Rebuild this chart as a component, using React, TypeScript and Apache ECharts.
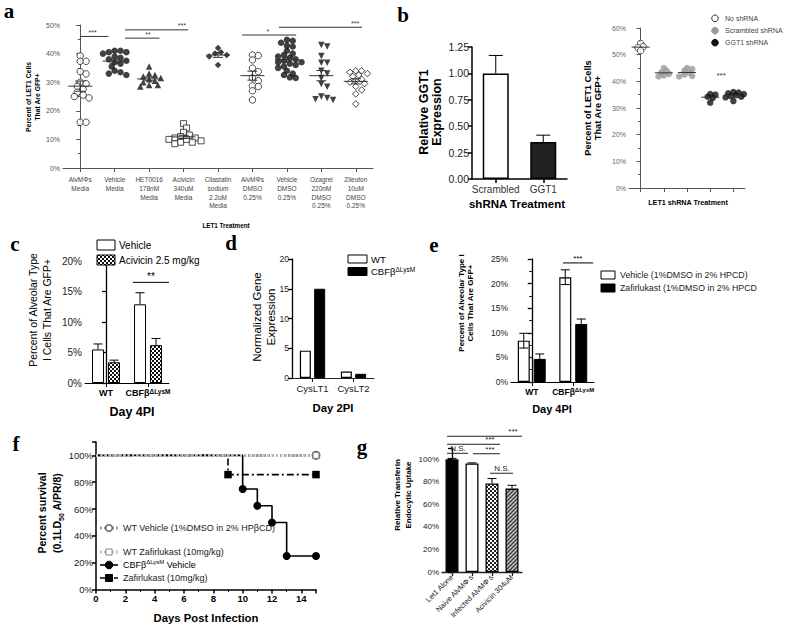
import React, { useEffect, useRef } from 'react';
import * as echarts from 'echarts';

const FONT = '"Liberation Sans", Arial, Helvetica, sans-serif';
const SERIF = '"Liberation Serif", "Times New Roman", Times, serif';

// ---------------- Panel a ----------------
const aCategories = [
  'AlvMΦs\nMedia', 'Vehicle\nMedia', 'HET0016\n178nM\nMedia', 'Acivicin\n340uM\nMedia',
  'Cilastatin\nsodium\n2.2uM\nMedia', 'AlvMΦs\nDMSO\n0.25%', 'Vehicle\nDMSO\n0.25%',
  'Ozagrel\n220nM\nDMSO\n0.25%', 'Zileuton\n10uM\nDMSO\n0.25%',
];
const aAlvMedia = [39.2, 37.3, 37.3, 33.7, 32.9, 30, 29.5, 28.5, 27.5, 26.5, 25.5, 25, 24.5, 16, 16];
const aVehicleMedia = [41, 41, 40.5, 40.5, 40, 39, 38.5, 38, 37.5, 37, 36.5, 35.5, 34, 33.5, 33, 32.5];
const aHET0016 = [35.5, 33, 32.5, 32, 31.5, 31, 30.5, 30, 29, 29, 28.5];
const aAcivicin = [15.5, 14, 12.5, 11.5, 11, 10.5, 10.5, 10, 10, 9.5, 9, 9, 8.5];
const aCilastatin = [42, 40.5, 40, 39.5, 39, 36];
const aAlvDMSO = [39.5, 39.3, 37.8, 34.9, 33.7, 31.5, 30.5, 28.7, 28.5, 27, 23.8];
const aVehicleDMSO = [44.8, 44.5, 43.8, 42.8, 42.5, 41, 40, 39.5, 39, 38.5, 38, 37.5, 37, 37, 36.5, 36, 35.5, 35, 34, 33, 32.5, 31.7, 31.5];
const aOzagrel = [43, 42.5, 39.2, 36.8, 36.8, 34, 33, 31.5, 29.4, 28.4, 25, 24.5, 24, 23.8];
const aZileuton = [34, 34, 33.5, 33, 32.5, 32, 31, 30.5, 30, 29.5, 28.5, 27.3, 25.9, 22.4];
const aGroups = [aAlvMedia, aVehicleMedia, aHET0016, aAcivicin, aCilastatin, aAlvDMSO, aVehicleDMSO, aOzagrel, aZileuton];
// [fromGroup, toGroup, yValue, labelAt]
const aSig = [[0.0, 0.82, 46.0, 0.36], [1.3, 3.13, 48.3, 2.95], [1.3, 2.3, 45.4, 1.97], [4.7, 6.27, 46.5, 5.45], [5.77, 8.18, 49.2, 7.98]];
const aSigLabels = ['***', '***', '**', '*', '***'];

// ---------------- Panel b ----------------
const bLeftCategories = ['Scrambled', 'GGT1'];
const bLeftValues = [1.0, 0.35];
const bLeftErrors = [0.17, 0.065];

const bRightGroupNames = ['No shRNA', 'Scrambled 1', 'Scrambled 2', 'GGT1 1', 'GGT1 2'];
const bNoShRNA = [54.2, 53.0, 52.6, 51.5];
const bScrambled1 = [45.0, 44.0, 43.3, 42.8, 42.2, 41.8];
const bScrambled2 = [45.0, 44.6, 44.0, 43.2, 42.6, 42.0, 41.8];
const bGGT1a = [35.2, 35.0, 34.2, 33.8, 32.0];
const bGGT1b = [36.0, 35.8, 35.5, 35.2, 34.8, 34.4, 34.2, 34.0, 32.6];
const bRightGroups = [bNoShRNA, bScrambled1, bScrambled2, bGGT1a, bGGT1b];
const bRightSig = [[3.47, 3.47, 40.5, 3.47]];
const bRightSigLabels = ['***'];

// ---------------- Panel c ----------------
const cCategories = ['WT', 'CBFβΔLysM'];
const cVehicle = [5.5, 12.9];
const cVehicleErr = [0.9, 1.9];
const cAcivicin = [3.4, 6.2];
const cAcivicinErr = [0.35, 1.1];
const cSig = [[0.64, 1.5, 16.5, 1.07]];
const cSigLabels = ['**'];

// ---------------- Panel d ----------------
const dCategories = ['CysLT1', 'CysLT2'];
const dWT = [4.6, 1.1];
const dCBF = [15.0, 0.7];

// ---------------- Panel e ----------------
const eCategories = ['WT', 'CBFβΔLysM'];
const eVehicle = [8.4, 21.3];
const eVehicleErr = [1.5, 1.5];
const eZafirlukast = [4.7, 11.8];
const eZafirlukastErr = [1.0, 1.0];
const eSig = [[0.75, 1.48, 24.2, 1.11]];
const eSigLabels = ['***'];

// ---------------- Panel f ----------------
const fWTVehicle = [[0, 100], [15, 100]];
const fWTZafirlukast = [[0, 100], [15, 100]];
const fCBFVehicle = [[0, 100], [10, 75], [11, 62.5], [12, 50], [13, 25], [15, 25]];
const fCBFZafirlukast = [[0, 100], [9, 85.7], [15, 85.7]];

// ---------------- Panel g ----------------
const gCategories = ['Let1 Alone', 'Naive AlvMΦ s', 'Infected AlvMΦ s', 'Acivicin 304uM'];
const gValues = [100, 96.2, 78.5, 74];
const gErrors = [0.8, 0.6, 4.4, 2.9];
const gSig = [[-0.25, 3.5, 120.4, 3.05], [-0.25, 2.4, 113.3, 1.9], [-0.25, 0.8, 105.3, 0.3], [1.05, 2.4, 104.9, 1.9], [1.9, 3.05, 87.6, 2.5]];
const gSigLabels = ['***', '***', 'N.S.', '***', 'N.S.'];

// ---------------- helpers ----------------
const mean = (a: number[]) => a.reduce((s, v) => s + v, 0) / a.length;
const sem = (a: number[]) => {
  const m = mean(a);
  const sd = Math.sqrt(a.reduce((s, v) => s + (v - m) * (v - m), 0) / (a.length - 1));
  return sd / Math.sqrt(a.length);
};

function swarmOffsets(vals: number[], pxPerY: number, pxPerX: number, diam: number, overlap: number, stepF: number): number[] {
  const order = vals.map((_, i) => i).sort((i, j) => vals[j] - vals[i]);
  const placed: [number, number][] = [];
  const out = new Array(vals.length).fill(0);
  const step = diam * stepF;
  for (const i of order) {
    const py = vals[i] * pxPerY;
    let px = 0;
    for (let k = 0; k < 80; k++) {
      const cand = k === 0 ? 0 : (k % 2 ? 1 : -1) * Math.ceil(k / 2) * step;
      if (placed.every(([x, y]) => Math.hypot(x - cand, y - py) >= diam * overlap)) { px = cand; break; }
    }
    placed.push([px, py]);
    out[i] = px / pxPerX;
  }
  return out;
}

function makeChecker(cell: number, fg: string, bg: string) {
  const c = document.createElement('canvas');
  c.width = c.height = cell * 2;
  const ctx = c.getContext('2d')!;
  ctx.fillStyle = bg; ctx.fillRect(0, 0, cell * 2, cell * 2);
  ctx.fillStyle = fg; ctx.fillRect(0, 0, cell, cell); ctx.fillRect(cell, cell, cell, cell);
  return c;
}
function makeHatch() {
  const s = 4;
  const c = document.createElement('canvas');
  c.width = c.height = s;
  const ctx = c.getContext('2d')!;
  ctx.fillStyle = '#c8c8c8'; ctx.fillRect(0, 0, s, s);
  ctx.strokeStyle = '#333'; ctx.lineWidth = 1.3;
  ctx.beginPath();
  ctx.moveTo(0, s); ctx.lineTo(s, 0);
  ctx.moveTo(-1, 1); ctx.lineTo(1, -1);
  ctx.moveTo(s - 1, s + 1); ctx.lineTo(s + 1, s - 1);
  ctx.stroke();
  return c;
}

function yAx(gridIndex: number, min: number, max: number, interval: number, o: any = {}) {
  const color = o.color ?? '#000';
  return {
    type: 'value', gridIndex, min, max, interval,
    axisLine: { show: true, lineStyle: { color: o.lineColor ?? color, width: o.width ?? 1 } },
    axisTick: { show: true, length: 4, lineStyle: { color: o.lineColor ?? color, width: o.width ?? 1 } },
    minorTick: { show: !!o.minor, splitNumber: 2, length: 2.5, lineStyle: { color: o.lineColor ?? color } },
    axisLabel: { color, fontSize: o.size ?? 9, fontFamily: FONT, margin: 3, formatter: o.fmt },
    splitLine: { show: false }, minorSplitLine: { show: false },
  };
}
function catAx(gridIndex: number, data: string[], o: any = {}) {
  const color = o.color ?? '#000';
  return {
    type: 'category', gridIndex, data,
    axisLine: { show: true, onZero: false, lineStyle: { color: o.lineColor ?? color, width: o.width ?? 1 } },
    axisTick: { show: true, alignWithLabel: true, length: 4, lineStyle: { color: o.lineColor ?? color, width: o.width ?? 1 } },
    axisLabel: {
      show: o.showLabel ?? true, interval: 0, color, fontSize: o.size ?? 9, fontFamily: FONT,
      fontWeight: o.bold ? 'bold' : 'normal', margin: o.margin ?? 4, lineHeight: o.lh, rotate: o.rotate ?? 0,
      formatter: o.fmt, rich: o.rich,
    },
    splitLine: { show: false },
  };
}
function hiddenVal(gridIndex: number, n: number) {
  return { type: 'value', gridIndex, min: -0.5, max: n - 0.5, show: false, splitLine: { show: false } };
}

function sigSeries(xi: number, yi: number, rows: number[][], labels: string[], fs: number, color = '#222') {
  return {
    type: 'custom', xAxisIndex: xi, yAxisIndex: yi, z: 8, clip: false, silent: true,
    data: rows,
    renderItem: (p: any, api: any) => {
      const a = api.coord([api.value(0), api.value(2)]);
      const b = api.coord([api.value(1), api.value(2)]);
      const t = api.coord([api.value(3), api.value(2)]);
      const children: any[] = [];
      if (Math.abs(b[0] - a[0]) > 1) {
        children.push({ type: 'line', shape: { x1: a[0], y1: a[1], x2: b[0], y2: b[1] }, style: { stroke: color, lineWidth: 1 } });
      }
      children.push({
        type: 'text', x: t[0], y: a[1] - 0.5,
        style: { text: labels[p.dataIndex], fontSize: fs, fontFamily: FONT, fill: color, align: 'center', textAlign: 'center', verticalAlign: 'bottom', textVerticalAlign: 'bottom' },
      });
      return { type: 'group', children };
    },
  };
}

function errSeries(xi: number, yi: number, data: number[][], offsets: number[], capHalf: number, both: boolean) {
  return {
    type: 'custom', xAxisIndex: xi, yAxisIndex: yi, z: 6, clip: false, silent: true,
    data,
    renderItem: (p: any, api: any) => {
      const cat = api.value(0), v = api.value(1), e = api.value(2), slot = api.value(3);
      const c = api.coord([cat, v]);
      const t = api.coord([cat, v + e]);
      const b = api.coord([cat, v - e]);
      const x = c[0] + offsets[slot];
      const st = { stroke: '#000', lineWidth: 1 };
      const ch: any[] = [
        { type: 'line', shape: { x1: x, y1: c[1], x2: x, y2: t[1] }, style: st },
        { type: 'line', shape: { x1: x - capHalf, y1: t[1], x2: x + capHalf, y2: t[1] }, style: st },
      ];
      if (both) {
        ch.push({ type: 'line', shape: { x1: x, y1: c[1], x2: x, y2: b[1] }, style: st });
        ch.push({ type: 'line', shape: { x1: x - capHalf, y1: b[1], x2: x + capHalf, y2: b[1] }, style: st });
      }
      return { type: 'group', children: ch };
    },
  };
}

function T(x: number, y: number, text: string, size: number, o: any = {}) {
  return {
    type: 'text', x, y, rotation: o.rot ?? 0, silent: true, z: 20,
    style: {
      text, fontFamily: o.family ?? FONT, fontSize: size, fontWeight: o.bold ? 'bold' : 'normal',
      fill: o.color ?? '#000', align: o.align ?? 'center', textAlign: o.align ?? 'center',
      verticalAlign: o.valign ?? 'middle', textVerticalAlign: o.valign ?? 'middle',
      lineHeight: o.lh, rich: o.rich,
    },
  };
}
const R = (x: number, y: number, w: number, h: number, fill: any, stroke = '#000') => ({
  type: 'rect', shape: { x, y, width: w, height: h }, silent: true, z: 20,
  style: { fill, stroke, lineWidth: 1 },
});
const L = (x1: number, y1: number, x2: number, y2: number, stroke: string, lw: number, dash?: number[]) => ({
  type: 'line', shape: { x1, y1, x2, y2 }, silent: true, z: 20,
  style: { stroke, lineWidth: lw, lineDash: dash },
});
const C = (cx: number, cy: number, r: number, fill: string, stroke: string, lw = 1) => ({
  type: 'circle', shape: { cx, cy, r }, silent: true, z: 21, style: { fill, stroke, lineWidth: lw },
});

function buildOption() {
  const checker = { image: makeChecker(2, '#111', '#fff'), repeat: 'repeat' };
  const checkerG = { image: makeChecker(2, '#222', '#fff'), repeat: 'repeat' };
  const hatch = { image: makeHatch(), repeat: 'repeat' };

  const grids = [
    { left: 63, top: 25, width: 310, height: 143 },   // a
    { left: 472, top: 47, width: 95, height: 132 },   // b left
    { left: 629, top: 28, width: 116, height: 160 },  // b right
    { left: 85, top: 261, width: 84, height: 122 },   // c
    { left: 292, top: 259, width: 82, height: 119 },  // d
    { left: 511, top: 259, width: 83, height: 123 },  // e
    { left: 96, top: 442, width: 220, height: 147.5 },// f
    { left: 442, top: 448, width: 80, height: 124 },  // g
  ];

  const supRich = (n: number, s: number, bold: boolean) => ({
    n: { fontSize: n, fontFamily: FONT, fontWeight: bold ? 'bold' : 'normal', color: '#000' },
    s: { fontSize: s, fontFamily: FONT, fontWeight: bold ? 'bold' : 'normal', color: '#000', verticalAlign: 'top' },
  });
  const cbfFmt = (v: string) => (v === 'CBFβΔLysM' ? '{n|CBFβ}{s|ΔLysM}' : '{n|' + v + '}');

  const xAxis = [
    catAx(0, aCategories, { color: '#444', lineColor: '#555', size: 6.5, lh: 8.8, margin: 7 }), // 0
    hiddenVal(0, 9), // 1
    catAx(1, bLeftCategories, { color: '#333', lineColor: '#000', size: 10, width: 1.5, margin: 5 }), // 2
    catAx(2, bRightGroupNames, { lineColor: '#555', showLabel: false }), // 3
    hiddenVal(2, 5), // 4
    catAx(3, cCategories, { fmt: cbfFmt, rich: supRich(9, 6.5, true), margin: 5 }), // 5
    hiddenVal(3, 2), // 6
    catAx(4, dCategories, { size: 9.5, color: '#222', margin: 5 }), // 7
    catAx(5, eCategories, { fmt: cbfFmt, rich: supRich(8.5, 6, true), margin: 5 }), // 8
    hiddenVal(5, 2), // 9
    {
      type: 'value', gridIndex: 6, min: 0, max: 15, interval: 2,
      axisLine: { show: true, onZero: false, lineStyle: { color: '#000', width: 1.5 } },
      axisTick: { show: true, length: 4, lineStyle: { color: '#000', width: 1.5 } },
      minorTick: { show: true, splitNumber: 2, length: 2.5, lineStyle: { color: '#000' } },
      axisLabel: { fontSize: 9.5, fontWeight: 'bold', fontFamily: FONT, color: '#000', margin: 4, formatter: (v: number) => (v > 14 ? '' : String(v)) },
      splitLine: { show: false },
    }, // 10
    catAx(7, gCategories, { size: 7.5, color: '#222', rotate: 45, margin: 4, width: 1.3 }), // 11
    hiddenVal(7, 4), // 12
  ];

  const pct = (v: number) => v + '%';
  const yAxis = [
    yAx(0, 0, 50, 10, { color: '#555', size: 7, fmt: pct, minor: true }),
    yAx(1, 0, 1.25, 0.25, { color: '#222', lineColor: '#000', size: 10.5, width: 1.5, fmt: (v: number) => v.toFixed(2) }),
    yAx(2, 0, 60, 10, { color: '#666', lineColor: '#555', size: 7, fmt: pct, minor: true }),
    yAx(3, 0, 20, 5, { color: '#222', lineColor: '#000', size: 10, fmt: pct, width: 1.3 }),
    yAx(4, 0, 20, 5, { color: '#222', lineColor: '#000', size: 8.5, width: 1.3 }),
    yAx(5, 0, 25, 5, { color: '#222', lineColor: '#000', size: 8.5, fmt: pct, minor: true, width: 1.3 }),
    yAx(6, 0, 110, 20, { color: '#222', lineColor: '#000', size: 9.5, width: 1.5, fmt: (v: number) => (v > 100 ? '' : v + '%') }),
    yAx(7, 0, 110, 20, { color: '#222', lineColor: '#000', size: 8, width: 1.3, minor: true, fmt: (v: number) => (v > 100 ? '' : v + '%') }),
  ];

  const series: any[] = [];

  // ----- a: scatter -----
  const aMarkers = [
    { symbol: 'circle', fill: '#fff', size: 6.5 },
    { symbol: 'circle', fill: '#111', size: 6.5 },
    { symbol: 'triangle', fill: '#111', size: 6.5 },
    { symbol: 'rect', fill: '#fff', size: 6 },
    { symbol: 'diamond', fill: '#111', size: 6.5 },
    { symbol: 'circle', fill: '#fff', size: 6.5 },
    { symbol: 'circle', fill: '#111', size: 6.5 },
    { symbol: 'triangle', fill: '#111', size: 6.5, rotate: 180 },
    { symbol: 'diamond', fill: '#fff', size: 6.5 },
  ];
  const aPxY = 143 / 50, aPxX = 310 / 9;
  aGroups.forEach((g, gi) => {
    const offs = swarmOffsets(g, aPxY, aPxX, 6.5, 0.72, 0.45);
    const m = aMarkers[gi];
    series.push({
      type: 'scatter', xAxisIndex: 1, yAxisIndex: 0, silent: true, z: 3,
      symbol: m.symbol, symbolSize: m.size, symbolRotate: m.rotate ?? 0,
      itemStyle: { color: m.fill, borderColor: '#222', borderWidth: m.fill === '#fff' ? 1 : 0 },
      data: g.map((v, i) => [gi + offs[i], v]),
    });
  });
  series.push({
    type: 'custom', xAxisIndex: 1, yAxisIndex: 0, z: 5, silent: true,
    data: aGroups.map((g, i) => [i, mean(g), sem(g)]),
    renderItem: (p: any, api: any) => {
      const c = api.coord([api.value(0), api.value(1)]);
      const hi = api.coord([api.value(0), api.value(1) + api.value(2)]);
      const lo = api.coord([api.value(0), api.value(1) - api.value(2)]);
      const st = { stroke: '#333', lineWidth: 1 };
      return {
        type: 'group', children: [
          { type: 'line', shape: { x1: c[0] - 12, y1: c[1], x2: c[0] + 12, y2: c[1] }, style: st },
          { type: 'line', shape: { x1: c[0], y1: hi[1], x2: c[0], y2: lo[1] }, style: st },
          { type: 'line', shape: { x1: c[0] - 5, y1: hi[1], x2: c[0] + 5, y2: hi[1] }, style: st },
          { type: 'line', shape: { x1: c[0] - 5, y1: lo[1], x2: c[0] + 5, y2: lo[1] }, style: st },
        ],
      };
    },
  });
  series.push(sigSeries(1, 0, aSig, aSigLabels, 7, '#333'));

  // ----- b left -----
  series.push({
    type: 'bar', xAxisIndex: 2, yAxisIndex: 1, barWidth: 26, silent: true,
    data: bLeftValues.map((v, i) => ({
      value: v,
      itemStyle: i === 0 ? { color: '#fff', borderColor: '#000', borderWidth: 1.5 } : { color: '#222', borderColor: '#000', borderWidth: 1.5 },
    })),
  });
  series.push(errSeries(2, 1, bLeftValues.map((v, i) => [i, v, bLeftErrors[i], 0]), [0], 7, false));

  // ----- b right -----
  const bColors = ['#fff', '#999', '#999', '#111', '#111'];
  const bPxY = 160 / 60, bPxX = 116 / 5;
  bRightGroups.forEach((g, gi) => {
    const offs = swarmOffsets(g, bPxY, bPxX, 6.5, 0.55, 0.4);
    series.push({
      type: 'scatter', xAxisIndex: 4, yAxisIndex: 2, silent: true, z: 3,
      symbol: 'circle', symbolSize: 6.5,
      itemStyle: { color: bColors[gi], borderColor: gi === 0 ? '#333' : bColors[gi], borderWidth: gi === 0 ? 1 : 0 },
      data: g.map((v, i) => [gi + offs[i], v]),
    });
  });
  series.push({
    type: 'custom', xAxisIndex: 4, yAxisIndex: 2, z: 5, silent: true,
    data: bRightGroups.map((g, i) => [i, mean(g)]),
    renderItem: (p: any, api: any) => {
      const c = api.coord([api.value(0), api.value(1)]);
      return { type: 'line', shape: { x1: c[0] - 9, y1: c[1], x2: c[0] + 9, y2: c[1] }, style: { stroke: '#333', lineWidth: 1 } };
    },
  });
  series.push(sigSeries(4, 2, bRightSig, bRightSigLabels, 8, '#333'));

  // ----- c -----
  series.push({
    type: 'bar', xAxisIndex: 5, yAxisIndex: 3, barWidth: 12, barGap: '33%', silent: true,
    itemStyle: { color: '#fff', borderColor: '#000', borderWidth: 1 }, data: cVehicle,
  });
  series.push({
    type: 'bar', xAxisIndex: 5, yAxisIndex: 3, barWidth: 12, barGap: '33%', silent: true,
    itemStyle: { color: checker, borderColor: '#000', borderWidth: 1 }, data: cAcivicin,
  });
  series.push(errSeries(5, 3, [
    ...cVehicle.map((v, i) => [i, v, cVehicleErr[i], 0]),
    ...cAcivicin.map((v, i) => [i, v, cAcivicinErr[i], 1]),
  ], [-8, 8], 4.5, false));
  series.push(sigSeries(6, 3, cSig, cSigLabels, 10, '#000'));

  // ----- d -----
  series.push({
    type: 'bar', xAxisIndex: 7, yAxisIndex: 4, barWidth: 11, barGap: '30%', silent: true,
    itemStyle: { color: '#fff', borderColor: '#000', borderWidth: 1.2 }, data: dWT,
  });
  series.push({
    type: 'bar', xAxisIndex: 7, yAxisIndex: 4, barWidth: 11, barGap: '30%', silent: true,
    itemStyle: { color: '#000', borderColor: '#000', borderWidth: 1 }, data: dCBF,
  });

  // ----- e -----
  series.push({
    type: 'bar', xAxisIndex: 8, yAxisIndex: 5, barWidth: 12, barGap: '33%', silent: true,
    itemStyle: { color: '#fff', borderColor: '#000', borderWidth: 1.2 }, data: eVehicle,
  });
  series.push({
    type: 'bar', xAxisIndex: 8, yAxisIndex: 5, barWidth: 12, barGap: '33%', silent: true,
    itemStyle: { color: '#000', borderColor: '#000', borderWidth: 1 }, data: eZafirlukast,
  });
  series.push(errSeries(8, 5, [
    ...eVehicle.map((v, i) => [i, v, eVehicleErr[i], 0]),
    ...eZafirlukast.map((v, i) => [i, v, eZafirlukastErr[i], 1]),
  ], [-8, 8], 4.5, true));
  series.push(sigSeries(9, 5, eSig, eSigLabels, 8, '#000'));

  // ----- f -----
  series.push({
    type: 'line', xAxisIndex: 10, yAxisIndex: 6, step: 'end', z: 2, silent: true,
    lineStyle: { color: '#000', width: 1.6 }, itemStyle: { color: '#000' },
    symbol: 'circle', symbolSize: 8,
    data: fCBFVehicle.map((p, i) => (i === 0 ? { value: p, symbol: 'none' } : { value: p })),
  });
  series.push({
    type: 'line', xAxisIndex: 10, yAxisIndex: 6, step: 'end', z: 2, silent: true,
    lineStyle: { color: '#000', width: 1.6, type: [7, 3, 2, 3] }, itemStyle: { color: '#000' },
    symbol: 'rect', symbolSize: 7.5,
    data: fCBFZafirlukast.map((p, i) => (i === 0 ? { value: p, symbol: 'none' } : { value: p })),
  });
  series.push({
    type: 'line', xAxisIndex: 10, yAxisIndex: 6, z: 3, silent: true,
    lineStyle: { color: '#9a9a9a', width: 3, type: [2, 2] },
    symbol: 'circle', symbolSize: 7.5, itemStyle: { color: '#fff', borderColor: '#666', borderWidth: 1.5 },
    data: fWTVehicle.map((p, i) => (i === 0 ? { value: p, symbol: 'none' } : { value: p })),
  });
  series.push({
    type: 'line', xAxisIndex: 10, yAxisIndex: 6, z: 3, silent: true,
    lineStyle: { color: '#c0c0c0', width: 3, type: [2, 2.5] },
    symbol: 'rect', symbolSize: 6, itemStyle: { color: '#fff', borderColor: '#888', borderWidth: 1.3 },
    data: fWTZafirlukast.map((p, i) => (i === 0 ? { value: p, symbol: 'none' } : { value: p })),
  });

  // ----- g -----
  const gStyles = [
    { color: '#000', borderColor: '#000', borderWidth: 1.3 },
    { color: '#fff', borderColor: '#000', borderWidth: 1.3 },
    { color: checkerG, borderColor: '#000', borderWidth: 1.3 },
    { color: hatch, borderColor: '#000', borderWidth: 1.3 },
  ];
  series.push({
    type: 'bar', xAxisIndex: 11, yAxisIndex: 7, barWidth: 13, silent: true,
    data: gValues.map((v, i) => ({ value: v, itemStyle: gStyles[i] })),
  });
  series.push(errSeries(11, 7, gValues.map((v, i) => [i, v, gErrors[i], 0]), [0], 4.5, false));
  series.push(sigSeries(12, 7, gSig, gSigLabels, 8, '#222'));

  // ----- graphic: labels, titles, legends -----
  const rot = Math.PI / 2;
  const letter = (x: number, y: number, t: string) => T(x, y, t, 21, { family: SERIF, bold: true });
  const supRichG = (n: number, s: number, bold = false) => ({
    n: { fontSize: n, fontFamily: FONT, fontWeight: bold ? 'bold' : 'normal', fill: '#000', lineHeight: n * 1.25 },
    s: { fontSize: s, fontFamily: FONT, fontWeight: bold ? 'bold' : 'normal', fill: '#000', verticalAlign: 'top' },
  });

  const elements: any[] = [
    letter(9, 11, 'a'), letter(403, 15, 'b'), letter(15, 244, 'c'), letter(231, 243, 'd'),
    letter(434, 245, 'e'), letter(16, 444, 'f'), letter(362, 447, 'g'),

    // a
    T(32.5, 97, 'Percent of LET1 Cells\nThat Are GFP+', 6.8, { rot, bold: true, lh: 9 }),
    T(226, 225, 'LET1 Treatment', 6.3, { bold: true }),

    // b left
    T(430, 112, 'Relative GGT1\nExpression', 12.5, { rot, bold: true, lh: 13 }),
    T(517, 204, 'shRNA Treatment', 11.5, { bold: true }),

    // b right
    T(593, 108, 'Percent of LET1 Cells\nThat Are GFP+', 9.3, { rot, bold: true, lh: 10.5 }),
    T(688, 202, 'LET1 shRNA Treatment', 7.2, { bold: true }),
    C(715, 18.3, 3.3, '#fff', '#333'),
    C(715, 30.7, 3.3, '#999', '#999'),
    C(715, 42.7, 3.3, '#111', '#111'),
    T(725, 18.3, 'No shRNA', 7, { align: 'left', color: '#444' }),
    T(725, 30.7, 'Scrambled shRNA', 7, { align: 'left', color: '#444' }),
    T(725, 42.7, 'GGT1 shRNA', 7, { align: 'left', color: '#444' }),

    // c
    T(40, 310, 'Percent of Alveolar Type\nI Cells That Are GFP+', 10.5, { rot, lh: 13.5 }),
    T(132, 412, 'Day 4PI', 12.5, { bold: true }),
    R(97, 240, 18, 10, '#fff'),
    R(97, 255, 18, 10, checker),
    T(119, 245, 'Vehicle', 10, { align: 'left' }),
    T(119, 260, 'Acivicin 2.5 mg/kg', 10, { align: 'left' }),

    // d
    T(264, 317, 'Normalized Gene\nExpression', 11.5, { rot, lh: 14 }),
    T(333, 408, 'Day 2PI', 11.3, { bold: true }),
    R(348, 255, 19, 8, '#fff'),
    R(348, 267.5, 19, 8, '#000'),
    T(371, 259, 'WT', 9.5, { align: 'left' }),
    T(371, 271.5, '{n|CBFβ}{s|ΔLysM}', 9.5, { align: 'left', rich: supRichG(9.5, 6.5) }),

    // e
    T(466, 303, 'Percent of Alveolar Type I\nCells That Are GFP+', 8, { rot, bold: true, lh: 9.5 }),
    T(552, 409, 'Day 4PI', 11, { bold: true }),
    R(601, 271, 14, 8, '#fff'),
    R(601, 284, 14, 8, '#000'),
    T(620, 275, 'Vehicle (1%DMSO in 2% HPCD)', 8.8, { align: 'left', color: '#222' }),
    T(620, 288, 'Zafirlukast (1%DMSO in 2% HPCD', 8.8, { align: 'left', color: '#222' }),

    // f
    T(49.5, 513, '{b|Percent survival}\n{b|(0.1LD}{sub|50}{b| A/PR/8)}', 10.5, {
      rot, rich: {
        b: { fontSize: 10.5, fontWeight: 'bold', fontFamily: FONT, fill: '#000', lineHeight: 15 },
        sub: { fontSize: 7, fontWeight: 'bold', fontFamily: FONT, fill: '#000', verticalAlign: 'bottom' },
      },
    }),
    T(206, 618, 'Days Post Infection', 11.3, { bold: true }),
    L(100, 528, 118, 528, '#9a9a9a', 3, [2, 2]),
    C(109, 528, 3.3, '#fff', '#666', 1.5),
    T(123, 528, 'WT Vehicle (1%DMSO in 2% HPβCD)', 9, { align: 'left', color: '#222' }),
    L(100, 552, 118, 552, '#c0c0c0', 3, [2, 2]),
    R(106, 549, 6, 6, '#fff', '#888'),
    T(123, 552, 'WT Zafirlukast (10mg/kg)', 9, { align: 'left', color: '#222' }),
    L(100, 565, 118, 565, '#000', 1.6),
    C(109, 565, 3.8, '#000', '#000'),
    T(123, 565, '{n|CBFβ}{s|ΔLysM}{n| Vehicle}', 9, { align: 'left', rich: supRichG(9, 6) }),
    L(100, 578, 118, 578, '#000', 1.6, [5, 2]),
    R(105.5, 574.5, 7, 7, '#000'),
    T(123, 578, 'Zafirlukast (10mg/kg)', 9, { align: 'left', color: '#222' }),

    // g
    T(402.5, 495, 'Relative Transferin\nEndocytic Uptake', 8, { rot, bold: true, lh: 11 }),
  ];

  return {
    animation: false,
    backgroundColor: '#fff',
    textStyle: { fontFamily: FONT },
    grid: grids,
    xAxis,
    yAxis,
    series,
    graphic: { elements },
  };
}

export default function App() {
  const ref = useRef<HTMLDivElement>(null);
  useEffect(() => {
    document.body.style.margin = '0';
    const chart = echarts.init(ref.current!, undefined, { renderer: 'svg', width: 800, height: 639 });
    chart.setOption(buildOption() as any);
    return () => chart.dispose();
  }, []);
  return <div ref={ref} style={{ width: 800, height: 639, background: '#fff' }} />;
}
